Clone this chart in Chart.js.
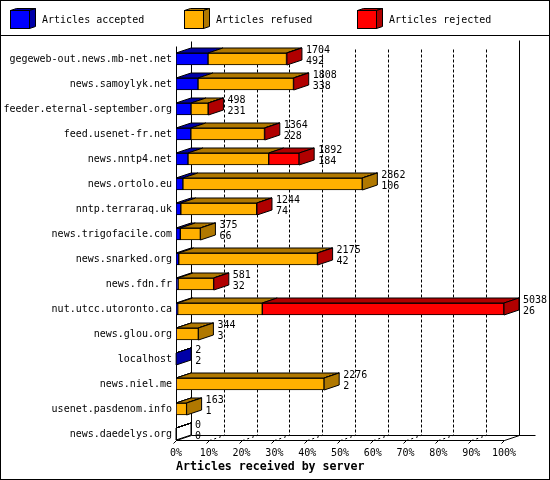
<!DOCTYPE html>
<html>
<head>
<meta charset="utf-8">
<title>Articles received by server</title>
<script src="https://cdn.jsdelivr.net/npm/chart.js@4.4.1/dist/chart.umd.min.js"></script>
<style>
    html, body { margin: 0; padding: 0; background: #fff; }
</style>
</head>
<body>
<canvas id="myChart" width="550" height="480"></canvas>
<script>
const servers = [
    'gegeweb-out.news.mb-net.net',
    'news.samoylyk.net',
    'feeder.eternal-september.org',
    'feed.usenet-fr.net',
    'news.nntp4.net',
    'news.ortolo.eu',
    'nntp.terraraq.uk',
    'news.trigofacile.com',
    'news.snarked.org',
    'news.fdn.fr',
    'nut.utcc.utoronto.ca',
    'news.glou.org',
    'localhost',
    'news.niel.me',
    'usenet.pasdenom.info',
    'news.daedelys.org'
];
const totals   = [1704, 1808, 498, 1364, 1892, 2862, 1244, 375, 2175, 581, 5038, 344, 2, 2276, 163, 0];
const accepted = [492, 338, 231, 228, 184, 106, 74, 66, 42, 32, 26, 3, 2, 2, 1, 0];
const refused  = [1205, 1466, 263, 1131, 1240, 2756, 1166, 309, 2130, 546, 1299, 341, 0, 2274, 162, 0];
const rejected = [7, 4, 4, 5, 468, 0, 4, 0, 3, 3, 3713, 0, 0, 0, 0, 0];
const percentTicks = [0, 10, 20, 30, 40, 50, 60, 70, 80, 90, 100];
const seriesLabels = ['Articles accepted', 'Articles refused', 'Articles rejected'];

const frontColors = ['#0000ff', '#ffb000', '#ff0000'];
const darkColors = ['#0000a8', '#b07800', '#b00000'];
const FONT = '"DejaVu Sans Mono", "Liberation Mono", monospace';
const DX = 15, DY = 5, BAR = 12;

const maxTotal = Math.max(...totals);
const toPct = arr => arr.map(v => v / maxTotal * 100);

function poly(ctx, pts, fill) {
    ctx.beginPath();
    ctx.moveTo(pts[0][0], pts[0][1]);
    pts.slice(1).forEach(p => ctx.lineTo(p[0], p[1]));
    ctx.closePath();
    if (fill) {
        ctx.fillStyle = fill;
        ctx.fill();
    }
    ctx.stroke();
}

function line(ctx, x1, y1, x2, y2) {
    ctx.beginPath();
    ctx.moveTo(x1, y1);
    ctx.lineTo(x2, y2);
    ctx.stroke();
}

// back wall, floor and grid
const framePlugin = {
    id: 'frame',
    beforeDatasetsDraw(chart) {
        const { ctx, chartArea, scales: { x, y } } = chart;
        const floorFront = Math.round(y.getPixelForValue(servers.length - 1) + BAR / 2) + 0.5;
        const floorBack = floorFront - DY;
        const top = Math.round(chartArea.top - 6) + 0.5;
        const left = Math.round(x.getPixelForValue(0)) + 0.5;
        const right = Math.round(x.getPixelForValue(100)) + 0.5;

        ctx.save();
        ctx.strokeStyle = '#000';
        ctx.lineWidth = 1;

        ctx.setLineDash([3, 2]);
        percentTicks.slice(1, -1).forEach(v => {
            const px = Math.round(x.getPixelForValue(v) + DX) + 0.5;
            line(ctx, px, top + 8, px, floorBack);
        });
        ctx.setLineDash([2, 3]);
        percentTicks.slice(1, -1).forEach(v => {
            const px = Math.round(x.getPixelForValue(v)) + 0.5;
            line(ctx, px, floorFront, px + DX, floorBack);
        });
        ctx.setLineDash([]);

        line(ctx, left + DX, top, left + DX, floorBack);
        line(ctx, right + DX, top - 1, right + DX, floorBack);
        line(ctx, left + DX, floorBack, right + DX + 16, floorBack);
        line(ctx, left, top + 5, left, floorFront);
        line(ctx, left, floorFront, right, floorFront);
        line(ctx, right, floorFront, right + DX, floorBack);
        line(ctx, left, floorFront, left + DX, floorBack);

        percentTicks.forEach(v => {
            const px = Math.round(x.getPixelForValue(v)) + 0.5;
            line(ctx, px - 3, floorFront + 3, px, floorFront);
        });
        ctx.restore();
    },

    afterDatasetsDraw(chart) {
        const { ctx } = chart;
        const metas = [0, 1, 2].map(d => chart.getDatasetMeta(d));
        const values = [accepted, refused, rejected];

        ctx.save();
        ctx.strokeStyle = '#000';
        ctx.lineWidth = 1;
        ctx.lineJoin = 'miter';

        servers.forEach((name, i) => {
            let last = -1;
            let end = null, t = 0, b = 0, cy = 0;
            metas.forEach((meta, d) => {
                const bar = meta.data[i].getProps(['x', 'base', 'y', 'height'], true);
                t = bar.y - bar.height / 2;
                b = bar.y + bar.height / 2;
                cy = bar.y;
                poly(ctx, [[bar.base, t], [bar.x, t], [bar.x + DX, t - DY], [bar.base + DX, t - DY]],
                    values[d][i] > 0 ? darkColors[d] : null);
                if (values[d][i] > 0) last = d;
                end = bar.x;
            });
            poly(ctx, [[end, t], [end + DX, t - DY], [end + DX, b - DY], [end, b]],
                last >= 0 ? darkColors[last] : null);

            ctx.fillStyle = '#000';
            ctx.font = '10px ' + FONT;
            ctx.textAlign = 'left';
            ctx.textBaseline = 'middle';
            ctx.fillText(String(totals[i]), end + DX + 4, cy - 8.5);
            ctx.fillText(String(accepted[i]), end + DX + 4, cy + 2);
        });
        ctx.restore();
    },

    afterDraw(chart) {
        const { ctx, width, height } = chart;
        ctx.save();
        ctx.strokeStyle = '#000';
        ctx.lineWidth = 1;

        // legend with little boxes
        seriesLabels.forEach((label, d) => {
            const bx = 10.5 + Math.round(d * 173.5);
            const by = 10.5;
            ctx.fillStyle = frontColors[d];
            ctx.fillRect(bx, by, 19, 18);
            ctx.strokeRect(bx, by, 19, 18);
            poly(ctx, [[bx, by], [bx + 19, by], [bx + 25, by - 2], [bx + 6, by - 2]], darkColors[d]);
            poly(ctx, [[bx + 19, by], [bx + 25, by - 2], [bx + 25, by + 16], [bx + 19, by + 18]], darkColors[d]);

            ctx.fillStyle = '#000';
            ctx.font = '10px ' + FONT;
            ctx.textAlign = 'left';
            ctx.textBaseline = 'middle';
            ctx.fillText(label, bx + 31.5, 20);
        });

        line(ctx, 0, 35.5, width, 35.5);
        ctx.strokeRect(0.5, 0.5, width - 1, height - 1);
        ctx.restore();
    }
};

const chartData = {
    labels: servers,
    datasets: [accepted, refused, rejected].map((arr, d) => ({
        label: seriesLabels[d],
        data: toPct(arr),
        backgroundColor: frontColors[d],
        borderColor: '#000',
        borderWidth: 1,
        borderSkipped: false,
        barThickness: BAR
    }))
};

const config = {
    type: 'bar',
    data: chartData,
    options: {
        indexAxis: 'y',
        responsive: false,
        animation: false,
        layout: {
            padding: { top: 46.5, right: 46, bottom: 6.5, left: 0 }
        },
        plugins: {
            legend: { display: false },
            tooltip: { enabled: false }
        },
        scales: {
            x: {
                stacked: true,
                min: 0,
                max: 100,
                grid: { display: false, drawTicks: false },
                border: { display: false },
                afterBuildTicks: scale => {
                    scale.ticks = percentTicks.map(v => ({ value: v }));
                },
                afterFit: scale => { scale.height = 27; },
                ticks: {
                    padding: 1,
                    maxRotation: 0,
                    autoSkip: false,
                    color: '#000',
                    font: { family: FONT, size: 10 },
                    callback: v => v + '%'
                },
                title: {
                    display: true,
                    text: 'Articles received by server',
                    align: 'start',
                    color: '#000',
                    padding: { top: 0, bottom: 0 },
                    font: { family: FONT, size: 11.6, weight: 'bold' }
                }
            },
            y: {
                stacked: true,
                grid: { display: false, drawTicks: false },
                border: { display: false },
                afterFit: scale => { scale.width = 176; },
                ticks: {
                    padding: 4,
                    color: '#000',
                    font: { family: FONT, size: 10 }
                }
            }
        }
    },
    plugins: [framePlugin]
};

const ctx = document.getElementById('myChart').getContext('2d');

if (ctx) {
    new Chart(ctx, config);
}
</script>
</body>
</html>
